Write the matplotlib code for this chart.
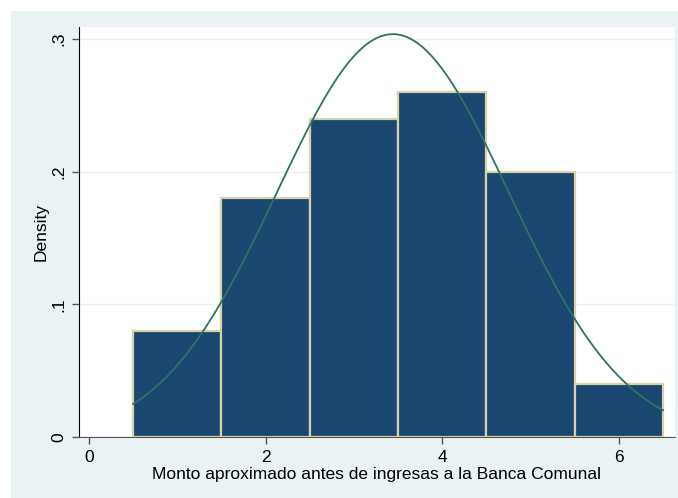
import numpy as np
import matplotlib.pyplot as plt
from matplotlib.patches import Rectangle

# histogram bins (left edges) and densities
bin_left = [0.5, 1.5, 2.5, 3.5, 4.5, 5.5]
bin_width = 1.0
density = [0.08, 0.18, 0.24, 0.26, 0.20, 0.04]
bin_mid = [1, 2, 3, 4, 5, 6]

xticks = [0, 2, 4, 6]
yticks = [0, 0.1, 0.2, 0.3]
ytick_labels = ["0", ".1", ".2", ".3"]

# normal curve fitted to the grouped data
w = np.array(density)
m = np.array(bin_mid, dtype=float)
mu = np.sum(w * m) / np.sum(w)
sd = np.sqrt(np.sum(w * (m - mu) ** 2) / np.sum(w))
xc = np.linspace(bin_left[0], bin_left[-1] + bin_width, 300)
yc = np.exp(-0.5 * ((xc - mu) / sd) ** 2) / (sd * np.sqrt(2 * np.pi))

plt.rcParams['font.family'] = ['Liberation Sans', 'DejaVu Sans']

W, H = 678, 498
fig = plt.figure(figsize=(W / 100, H / 100), dpi=100)
fig.patch.set_facecolor("white")
fig.patches.append(Rectangle((11 / W, 0), 1 - 11 / W, 1 - 11 / H,
                             transform=fig.transFigure, facecolor="#EAF2F3",
                             edgecolor="none", zorder=-5))

ax = fig.add_axes([79 / W, (H - 437) / H, (675 - 79) / W, (437 - 27) / H])
ax.set_zorder(1)
ax.set_facecolor("white")

ax.bar(bin_left, density, width=bin_width, align="edge",
       color="#1A476F", edgecolor="#D7D2A5", linewidth=1.6, zorder=2)
ax.plot(xc, yc, color="#2E7366", linewidth=1.3, zorder=3)

ax.set_xlim(-0.113, 6.634)
ax.set_ylim(0, 0.309)
ax.set_xticks(xticks)
ax.set_yticks(yticks)
ax.set_yticklabels(ytick_labels, rotation=90, va="center")
ax.grid(axis="y", color="#EAF2F3", linewidth=1, zorder=1)
ax.set_axisbelow(True)

for s in ["top", "right"]:
    ax.spines[s].set_visible(False)
ax.spines["left"].set_color("black")
ax.spines["bottom"].set_color("#555555")
ax.tick_params(axis="both", direction="out", length=5, width=1, color="#555555",
               labelsize=12.5, pad=4)

ax.set_ylabel("Density", fontsize=12.5, labelpad=2)
ax.set_xlabel("Monto aproximado antes de ingresas a la Banca Comunal", fontsize=12.5, labelpad=2)

fig.savefig("out.png", dpi=100)
